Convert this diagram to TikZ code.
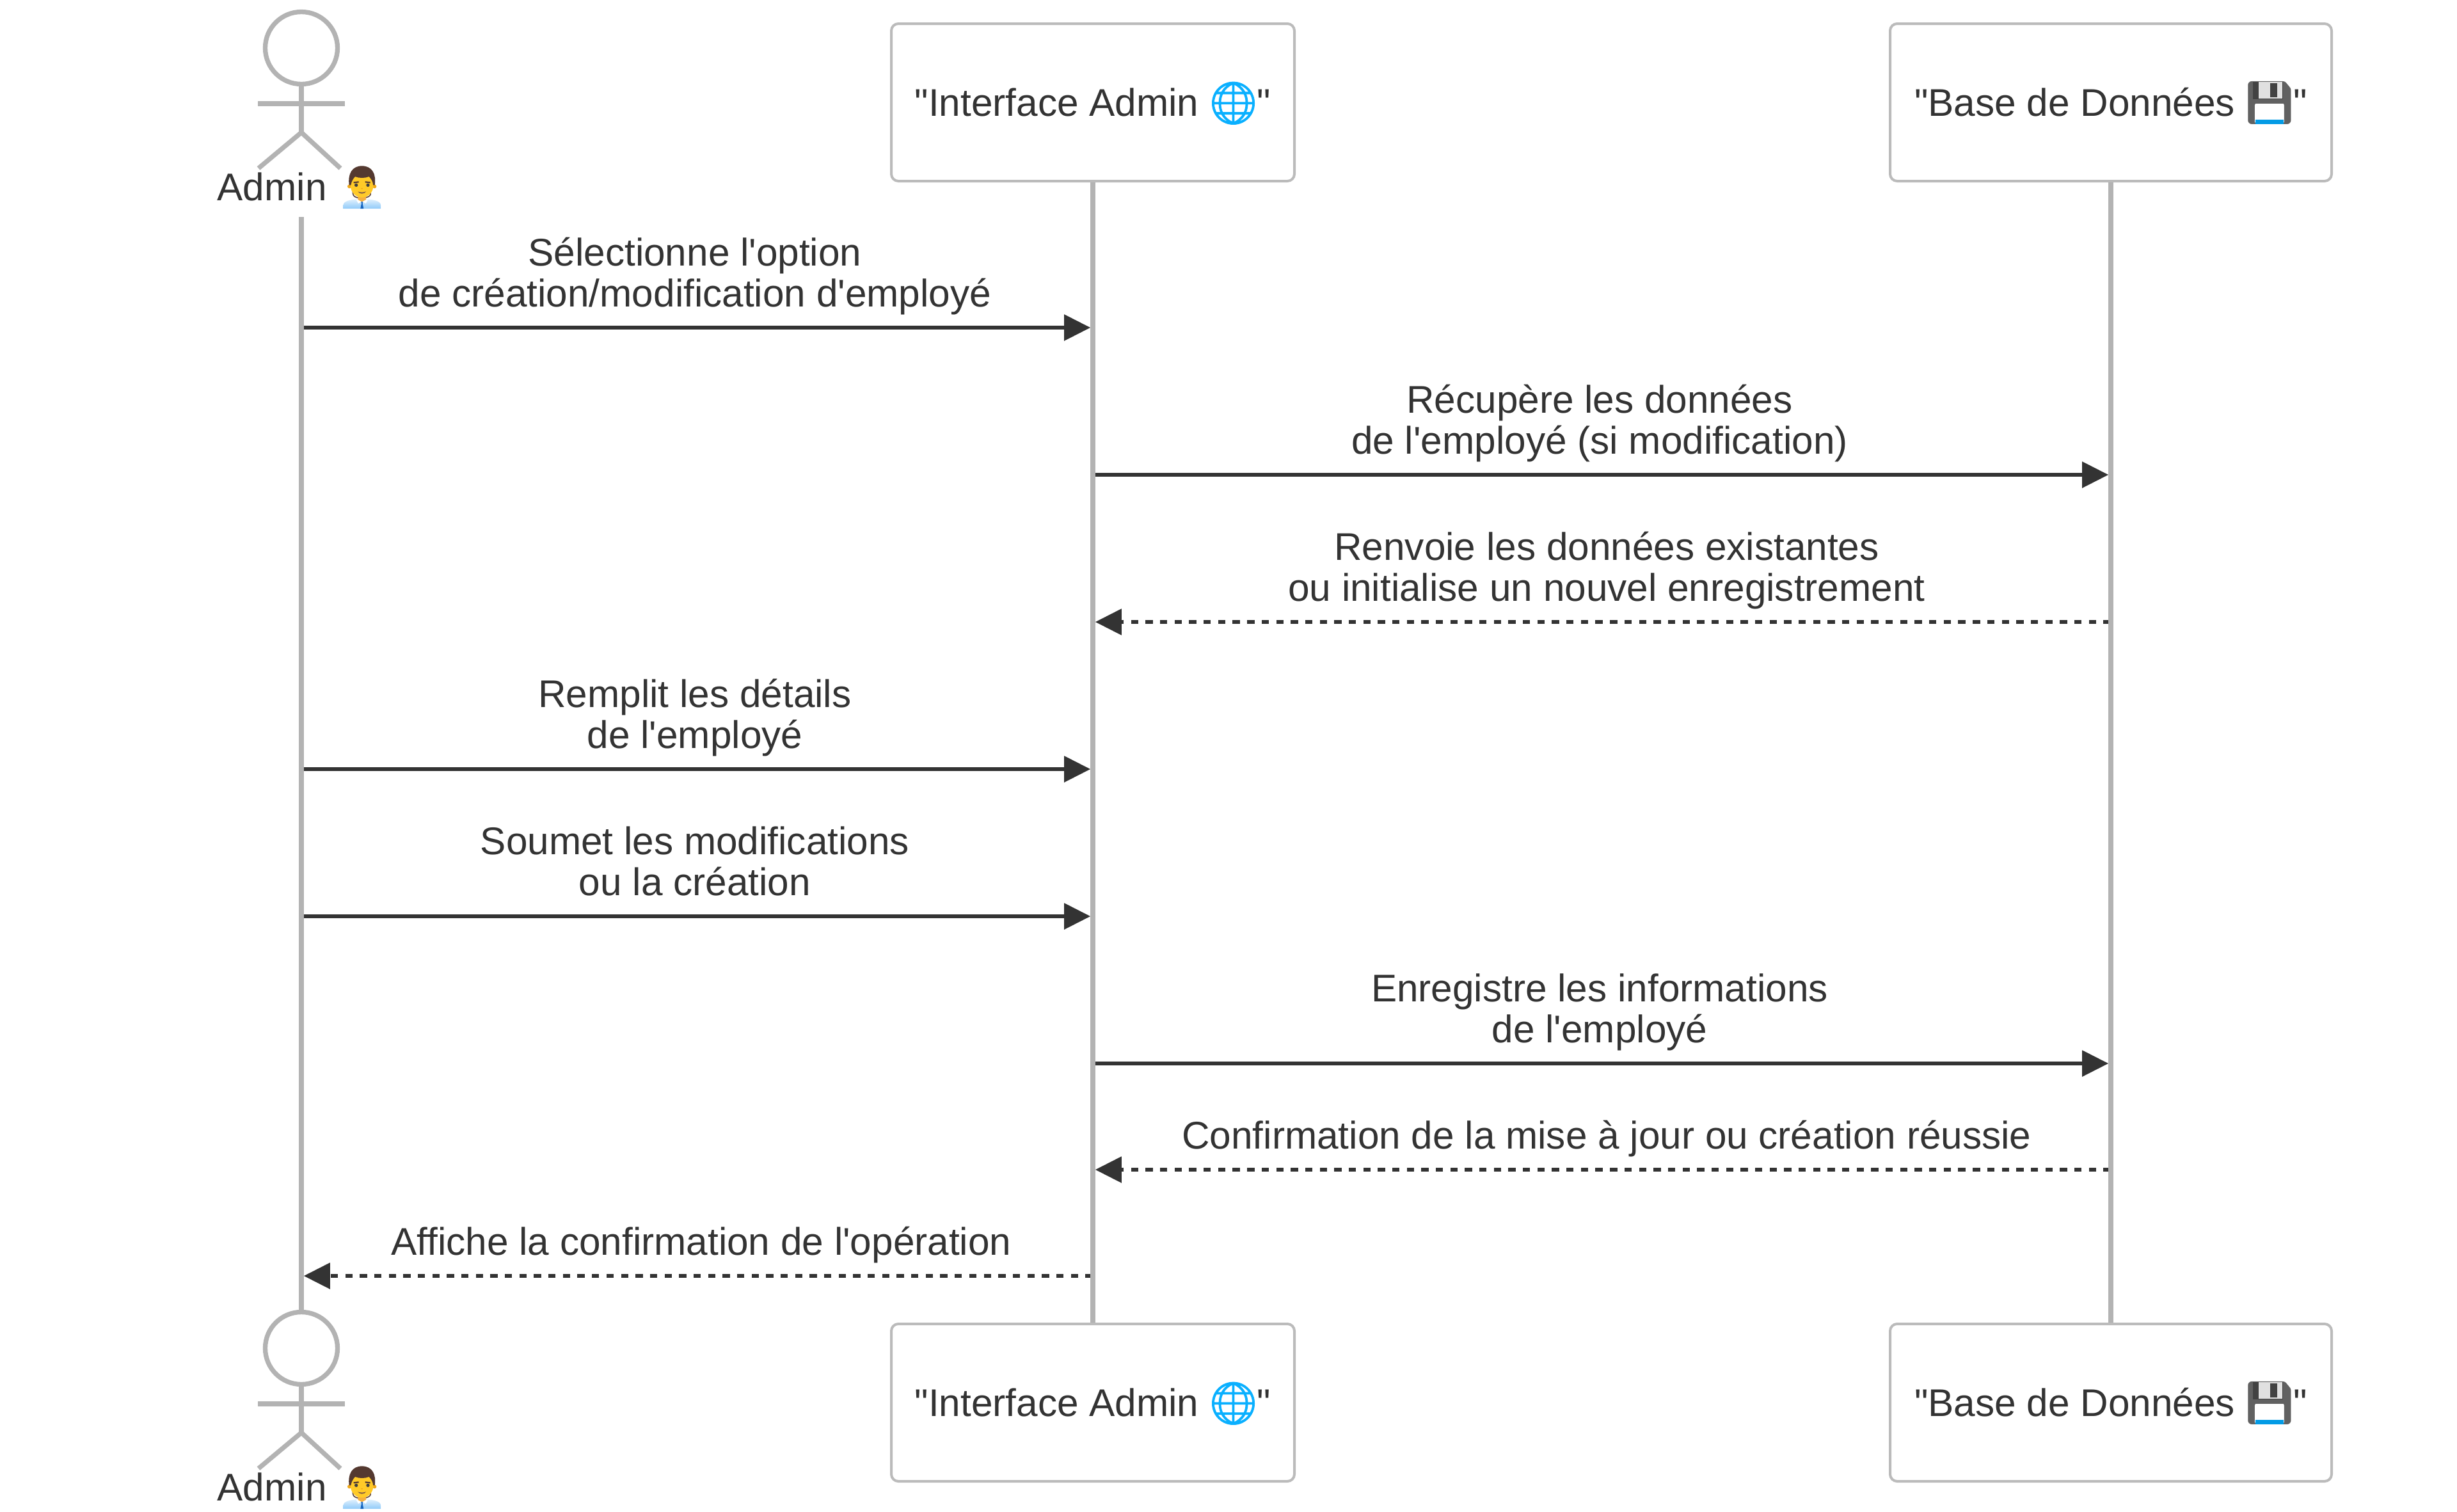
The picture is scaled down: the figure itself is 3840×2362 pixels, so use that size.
\documentclass[tikz,border=0pt]{standalone}
\usepackage{fontspec}
\usetikzlibrary{arrows.meta}
\newfontfamily\labelfont{Liberation Sans}
\newfontfamily\emojifont{Noto Emoji}
\newfontfamily\emojibold[FakeBold=2]{Noto Emoji}
\definecolor{lineGrey}{HTML}{B3B3B3}
\definecolor{boxGrey}{HTML}{BBBBBB}
\definecolor{inkDark}{HTML}{333333}
\definecolor{globeBlue}{HTML}{0AB0FF}
\definecolor{floppyGrey}{HTML}{616161}
\definecolor{floppyDark}{HTML}{424242}
\definecolor{floppyLight}{HTML}{E0E0E0}
\definecolor{floppyBlue}{HTML}{039BE5}
\definecolor{faceYellow}{HTML}{FFCA28}
\definecolor{earOrange}{HTML}{F0A818}
\definecolor{neckOrange}{HTML}{F5B041}
\definecolor{hairBrown}{HTML}{543930}
\definecolor{eyeDark}{HTML}{404040}
\definecolor{mouthBrown}{HTML}{795548}
\definecolor{shirtTop}{HTML}{E3F2FD}
\definecolor{shirtBottom}{HTML}{90CAF9}
\definecolor{tieBlue}{HTML}{1565C0}
\newcommand{\emojislot}[1]{\makebox[37.4pt][c]{#1}}
\newcommand{\globeicon}{\emojislot{\raisebox{-1.25pt}{\textcolor{globeBlue}{\emojibold\fontsize{32.5}{33}\selectfont\char"1F310}}}}
\newcommand{\floppyicon}{\emojislot{\raisebox{-1.25pt}{\textcolor{floppyGrey}{\emojifont\fontsize{33}{33}\selectfont\char"1F4BE}}}}
\newcommand{\manicon}{\emojislot{\raisebox{5pt}{\textcolor{hairBrown}{\emojifont\fontsize{22}{22}\selectfont\char"1F468}}}}
\tikzset{
  x=0.5pt,y=-0.5pt,
  lifeline/.style={draw=lineGrey,line width=3.75pt},
  actorline/.style={draw=lineGrey,line width=3.65pt},
  partbox/.style={draw=boxGrey,line width=2pt,rounded corners=5.5pt,fill=white,minimum width=315pt,minimum height=123pt,inner sep=0pt,text=inkDark,text height=21pt,text depth=0pt,font=\labelfont\fontsize{30.15}{32}\selectfont},
  msglabel/.style={anchor=base,align=center,text=inkDark,inner sep=0pt,font=\labelfont\fontsize{30.15}{32}\selectfont},
  actorlabel/.style={anchor=base,text=inkDark,inner sep=0pt,font=\labelfont\fontsize{30.15}{32}\selectfont},
  msg/.style={draw=inkDark,line width=2.8pt,-{Triangle[length=20.5pt,width=20pt]}},
  reply/.style={msg,dash pattern=on 5.67pt off 5.67pt,dash phase=1.7pt},
}
% man office worker, measured at 3x from (530,252)
\newcommand{\manart}[1]{%
\begin{scope}[shift={(530,252+#1)},x=0.5/3*1pt,y=-0.5/3*1pt]
\shade[top color=shirtTop,bottom color=shirtBottom] (20,222) -- (20,205) .. controls (20,185) and (60,178) .. (107,176) .. controls (155,178) and (195,185) .. (195,205) -- (195,222) -- cycle;
\fill[white] (80,180) -- (107,172) -- (135,180) -- (125,198) -- (107,188) -- (90,198) -- cycle;
\fill[neckOrange] (88,160) -- (126,160) -- (126,180) -- (107,190) -- (88,180) -- cycle;
\fill[earOrange] (48,118) circle[radius=9] (166,118) circle[radius=9];
\fill[faceYellow] (107,112) ellipse[x radius=54,y radius=58];
\fill[hairBrown] (47,112) .. controls (40,60) and (60,22) .. (107,22) .. controls (155,22) and (175,60) .. (167,112) -- (160,112) .. controls (158,95) and (150,82) .. (140,72) .. controls (120,80) and (95,80) .. (75,72) .. controls (65,82) and (58,95) .. (55,112) -- cycle;
\draw[hairBrown,line width=1.1pt] (68,100) -- (92,97) (122,97) -- (146,100);
\fill[eyeDark] (80,112) circle[radius=8] (135,112) circle[radius=8];
\fill[earOrange] (107,128) ellipse[x radius=5,y radius=3];
\fill[mouthBrown] (88,142) .. controls (100,147) and (114,147) .. (126,142) .. controls (120,155) and (94,155) .. (88,142) -- cycle;
\fill[tieBlue] (102,190) -- (112,190) -- (110,197) -- (115,222) -- (100,222) -- (105,197) -- cycle;
\end{scope}}
% floppy disk interior
\newcommand{\floppyart}[1]{%
\begin{scope}[yshift={(#1)*(-0.5pt)}]
\fill[floppyGrey] (3518,131) rectangle (3573,162);
\fill[floppyDark] (3520.7,127.6) rectangle (3567.7,155);
\fill[floppyLight] (3530,127.6) rectangle (3566.7,154);
\fill[floppyDark] (3548.3,130) rectangle (3559,151.7);
\fill[white] (3524.7,162.3) rectangle (3569,188);
\fill[floppyBlue] (3524.7,187.3) rectangle (3569,194);
\end{scope}}
\newcommand{\actorfig}[2]{%
  \draw[actorline,fill=white] (471,#1+75) circle[radius=56.5];
  \draw[actorline] (471,#1+131) -- (471,#1+207);
  \draw[actorline] (403,#1+162) -- (539,#1+162);
  \draw[actorline] (404,#1+263) -- (471,#1+207) -- (532,#1+263);
  \node[actorlabel] (#2) at (471,#1+313) {Admin \manicon};
  \manart{#1}
}
\begin{document}
\begin{tikzpicture}
\useasboundingbox (0,0) rectangle (3840,2362);
\fill[white] (0,0) rectangle (3840,2362);
% lifelines
\coordinate (aTop) at (471,339); \coordinate (aBot) at (471,2051);
\draw[lifeline] (aTop) -- (aBot);
\node[partbox] (ifTop) at (1708,160) {"Interface Admin \globeicon"};
\node[partbox,minimum width=345pt] (dbTop) at (3299,160) {"Base de Données \floppyicon"};
\node[partbox] (ifBot) at (1708,2192) {"Interface Admin \globeicon"};
\node[partbox,minimum width=345pt] (dbBot) at (3299,2192) {"Base de Données \floppyicon"};
\floppyart{0}
\floppyart{2032}
\draw[lifeline] (ifTop.south) -- (ifBot.north);
\draw[lifeline] (dbTop.south) -- (dbBot.north);
\actorfig{0}{actTop}
\actorfig{2032}{actBot}
% message end points on the lifelines
\foreach \n/\y in {a/512,b/742,c/972,d/1202,e/1432,f/1662,g/1828,h/1994}{
  \coordinate (A\n) at (474.8,\y);
  \coordinate (Il\n) at (1704.2,\y);
  \coordinate (Ir\n) at (1711.8,\y);
  \coordinate (D\n) at (3295.2,\y);
}
\draw[msg] (Aa) -- (Ila);
\draw[msg] (Irb) -- (Db);
\draw[reply] (Dc) -- (Irc);
\draw[msg] (Ad) -- (Ild);
\draw[msg] (Ae) -- (Ile);
\draw[msg] (Irf) -- (Df);
\draw[reply] (Dg) -- (Irg);
\draw[reply] (Ilh) -- (Ah);
\node[msglabel] (m1) at (1086,479) {Sélectionne l'option\\de création/modification d'employé};
\node[msglabel] (m2) at (2500,709) {Récupère les données\\de l'employé (si modification)};
\node[msglabel] (m3) at (2511,939) {Renvoie les données existantes\\ou initialise un nouvel enregistrement};
\node[msglabel] (m4) at (1086,1169) {Remplit les détails\\de l'employé};
\node[msglabel] (m5) at (1086,1399) {Soumet les modifications\\ou la création};
\node[msglabel] (m6) at (2500,1629) {Enregistre les informations\\de l'employé};
\node[msglabel] (m7) at (2511,1795) {Confirmation de la mise à jour ou création réussie};
\node[msglabel] (m8) at (1096,1961) {Affiche la confirmation de l'opération};
\end{tikzpicture}
\end{document}
